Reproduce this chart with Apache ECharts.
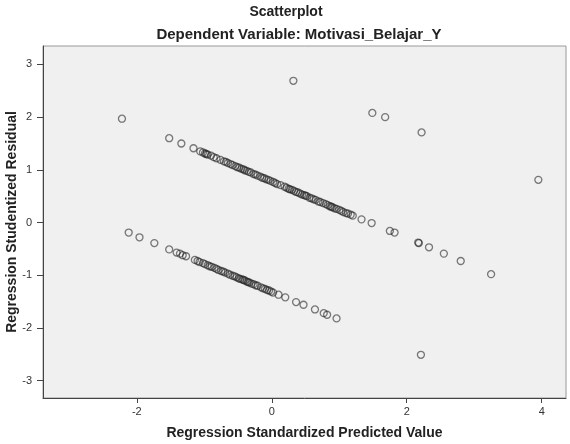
<!DOCTYPE html>
<html>
<head>
<meta charset="utf-8">
<script src="https://cdn.jsdelivr.net/npm/echarts@6/dist/echarts.min.js"></script>
<style>
html,body{margin:0;padding:0;background:#fff;}
#chart{width:570px;height:444px;}
</style>
</head>
<body>
<div id="chart"></div>
<script>
// Upper band (predicted, residual)
var upperPred = [-1.52,-1.34,-1.16,-1.06,-1.02,-0.99,-0.97,-0.95,-0.90,-0.86,-0.82,-0.76,-0.71,-0.68,-0.65,-0.61,-0.58,-0.54,-0.51,-0.48,-0.45,-0.42,-0.40,-0.37,-0.34,-0.31,-0.27,-0.24,-0.21,-0.17,-0.14,-0.11,-0.08,-0.05,-0.02,0.02,0.05,0.08,0.13,0.19,0.22,0.25,0.27,0.30,0.33,0.36,0.39,0.42,0.45,0.48,0.50,0.52,0.56,0.59,0.62,0.65,0.69,0.72,0.76,0.80,0.83,0.86,0.88,0.90,0.93,0.96,1.00,1.03,1.06,1.10,1.13,1.17,1.20,1.33,1.48,1.75,1.82,2.17,2.18,2.33,2.55,2.80,3.25];
var upperRes = [1.60,1.50,1.41,1.35,1.33,1.31,1.30,1.29,1.27,1.24,1.22,1.19,1.16,1.15,1.13,1.11,1.09,1.07,1.05,1.04,1.02,1.01,0.99,0.98,0.96,0.95,0.92,0.91,0.89,0.87,0.85,0.84,0.82,0.81,0.79,0.77,0.75,0.73,0.71,0.68,0.66,0.64,0.63,0.62,0.60,0.58,0.57,0.55,0.53,0.52,0.51,0.50,0.47,0.46,0.44,0.43,0.40,0.39,0.37,0.35,0.33,0.31,0.30,0.29,0.27,0.26,0.24,0.22,0.20,0.18,0.17,0.15,0.13,0.06,-0.01,-0.16,-0.19,-0.38,-0.39,-0.47,-0.59,-0.73,-0.98];
// Lower band
var lowerPred = [-2.12,-1.96,-1.74,-1.52,-1.41,-1.36,-1.32,-1.27,-1.14,-1.10,-1.07,-1.02,-0.99,-0.95,-0.92,-0.89,-0.85,-0.82,-0.79,-0.75,-0.72,-0.69,-0.65,-0.62,-0.58,-0.55,-0.52,-0.49,-0.47,-0.44,-0.42,-0.40,-0.37,-0.35,-0.33,-0.30,-0.27,-0.24,-0.21,-0.16,-0.13,-0.10,-0.07,-0.04,-0.01,0.02,0.10,0.20,0.36,0.47,0.64,0.77,0.82,0.96];
var lowerRes = [-0.19,-0.28,-0.39,-0.51,-0.57,-0.59,-0.62,-0.64,-0.71,-0.73,-0.75,-0.77,-0.79,-0.81,-0.83,-0.84,-0.86,-0.88,-0.90,-0.92,-0.93,-0.95,-0.97,-0.99,-1.01,-1.02,-1.04,-1.06,-1.07,-1.08,-1.09,-1.10,-1.12,-1.13,-1.14,-1.16,-1.17,-1.19,-1.20,-1.23,-1.25,-1.26,-1.28,-1.29,-1.31,-1.33,-1.37,-1.42,-1.51,-1.56,-1.65,-1.72,-1.75,-1.82];
// Isolated points
var otherPred = [-2.22,0.32,1.49,1.68,2.22,3.95,2.21];
var otherRes = [1.97,2.69,2.08,2.00,1.71,0.81,-2.51];

var xTicks = [-2,0,2,4];
var yTicks = [-3,-2,-1,0,1,2,3];

function pairs(a,b){var o=[];for(var i=0;i<a.length;i++)o.push([a[i],b[i]]);return o;}
var data = pairs(upperPred,upperRes).concat(pairs(lowerPred,lowerRes)).concat(pairs(otherPred,otherRes));

var chart = echarts.init(document.getElementById('chart'), null, {renderer:'canvas'});
var font = '"Liberation Sans", Arial, sans-serif';
chart.setOption({
  animation:false,
  backgroundColor:'#ffffff',
  title:[
    {text:'Scatterplot', left:281, top:0, textAlign:'center',
     textStyle:{fontFamily:font, fontSize:14, fontWeight:'bold', color:'#222'}},
    {text:'Dependent Variable: Motivasi_Belajar_Y', left:294, top:22, textAlign:'center',
     textStyle:{fontFamily:font, fontSize:15, fontWeight:'bold', color:'#222'}}
  ],
  grid:{left:43, right:4, top:46, bottom:46, containLabel:false, outerBoundsMode:'none',
        show:true, backgroundColor:'#f0f0f0', borderColor:'#999', borderWidth:1},
  xAxis:{
    type:'value', min:-3.39, max:4.36,
    name:'Regression Standardized Predicted Value', nameLocation:'middle', nameGap:28, nameMoveOverlap:false,
    nameTextStyle:{fontFamily:font, fontSize:14, fontWeight:'bold', color:'#222'},
    axisLine:{show:true, onZero:false, lineStyle:{color:'#444', width:1}},
    axisTick:{show:true, length:5, lineStyle:{color:'#444'}, customValues:xTicks},
    axisLabel:{fontFamily:font, fontSize:11, color:'#333', margin:8, customValues:xTicks},
    splitLine:{show:false}
  },
  yAxis:{
    type:'value', min:-3.33, max:3.35,
    name:'Regression Studentized Residual', nameLocation:'middle', nameGap:24, nameMoveOverlap:false,
    nameTextStyle:{fontFamily:font, fontSize:14, fontWeight:'bold', color:'#222'},
    axisLine:{show:true, onZero:false, lineStyle:{color:'#444', width:1}},
    axisTick:{show:true, length:6, lineStyle:{color:'#444'}, customValues:yTicks},
    axisLabel:{fontFamily:font, fontSize:11, color:'#333', margin:11, customValues:yTicks},
    splitLine:{show:false}
  },
  series:[{
    type:'scatter', data:data, symbol:'circle', symbolSize:7, silent:true,
    itemStyle:{color:'rgba(0,0,0,0)', borderColor:'rgba(30,30,30,0.72)', borderWidth:1.3}
  }]
});
</script>
</body>
</html>
